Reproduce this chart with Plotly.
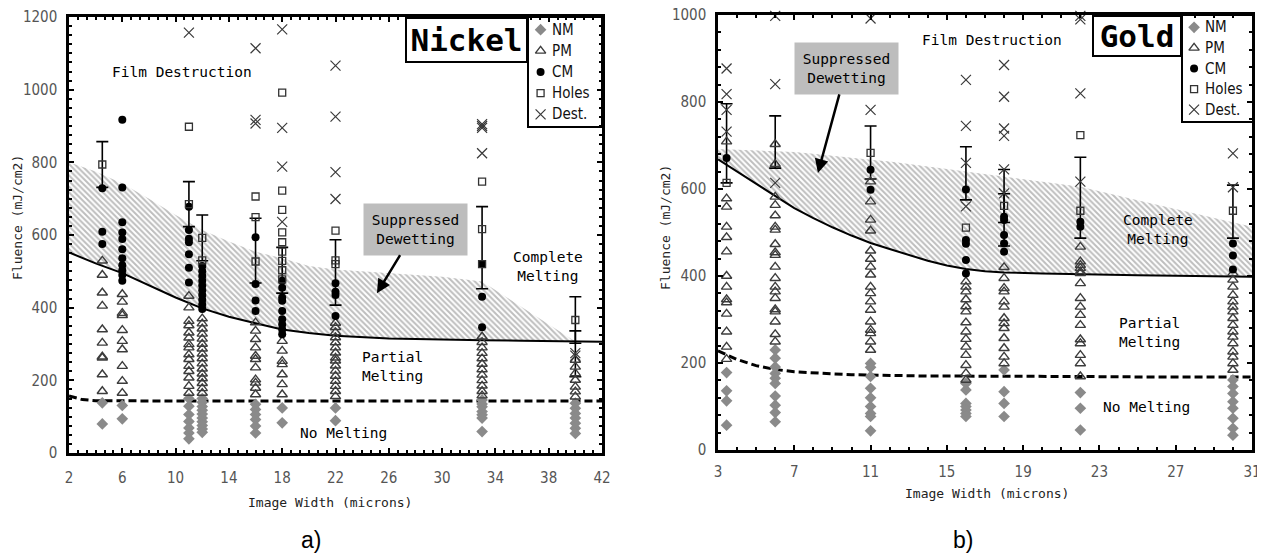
import plotly.graph_objects as go

# ---------------- Nickel (panel a) ----------------
ni_widths = [4.5, 6, 11, 12, 16, 18, 22, 33, 40]
ni_nm = [[138, 80], [131, 94], [150, 129, 106, 87, 69, 55, 39],
         [150, 140, 128, 118, 107, 96, 86, 76, 66, 57],
         [134, 120, 106, 92, 74, 55], [124, 83], [124, 89],
         [146, 135, 127, 114, 105, 96, 59], [137, 123, 109, 96, 82, 68, 54]]
ni_pm = [[170, 216, 262, 265, 303, 340, 405, 441, 490, 529],
         [165, 198, 239, 285, 308, 338, 379, 385, 416, 437],
         [165, 184, 207, 225, 239, 258, 271, 290, 299, 317, 331, 351, 363, 400, 432],
         [165, 178, 192, 205, 218, 232, 246, 260, 273, 287, 300, 314, 328, 342, 356, 370],
         [161, 179, 193, 202, 235, 258, 267, 290, 313, 336, 359],
         [161, 189, 216, 244, 253, 281, 308],
         [156, 170, 184, 198, 212, 226, 240, 254, 262, 276, 290, 304, 318, 332, 346, 358],
         [158, 170, 185, 200, 215, 230, 245, 260, 275, 290, 305, 320],
         [155, 169, 182, 201, 219, 237, 256]]
ni_cm = [[729, 609, 575], [917, 731, 635, 607, 589, 561, 536, 517, 503, 490, 474],
         [678, 614, 590, 580, 547, 510, 469],
         [515, 500, 487, 474, 461, 448, 435, 422, 409, 396],
         [594, 465, 420, 391], [474, 455, 428, 419, 391, 368, 354, 340, 327],
         [467, 444, 435, 377], [520, 430, 346], []]
ni_holes = [[794], [], [898, 685], [592, 530], [706, 649, 527],
            [992, 722, 669, 607, 580, 554, 529, 503, 478], [612, 530, 520],
            [747, 616, 520], [366]]
ni_dest = [[], [], [1157], [], [1114, 917, 907], [1166, 895, 788, 636],
           [1066, 926, 773, 699], [905, 900, 895, 825], [275, 268]]
ni_err_x = [4.5, 11, 12, 16, 18, 22, 33, 40, 40]
ni_err_y = [794, 685, 592, 557, 503, 497, 565, 366, 273]
ni_err_d = [63, 62, 63, 89, 63, 90, 113, 64, 63]
ni_curve_x = [2, 3, 4, 6, 8, 10, 12, 14, 16, 18, 20, 22, 26, 30, 33, 36, 38, 40, 42]
ni_cm_curve = [552, 537, 522, 495, 462, 428, 398, 375, 357, 340, 330, 323, 315, 311, 310, 309, 308, 307, 306]
ni_pm_curve = [157, 147, 144, 143, 143, 143, 143, 143, 143, 143, 143, 143, 143, 143, 143, 143, 143, 143, 143]
ni_sd_curve = [800, 788, 775, 742, 700, 655, 614, 582, 554, 536, 515, 505, 495, 485, 472, 401, 354, 307]

# ---------------- Gold (panel b) ----------------
go_widths = [3.45, 6, 11, 16, 18, 22, 30]
go_nm = [[178, 136, 113, 57], [230, 211, 191, 176, 165, 153, 124, 103, 86, 65],
         [199, 190, 169, 142, 120, 100, 84, 77, 44],
         [153, 138, 107, 100, 92, 84, 77], [184, 134, 107, 77], [132, 96, 46],
         [161, 146, 130, 111, 96, 73, 50, 34]]
go_pm = [[709, 578, 559, 513, 489, 456, 400, 375, 346, 339, 313, 272, 237, 209],
         [703, 657, 582, 563, 539, 513, 506, 473, 454, 448, 421, 395, 375, 364, 349, 323, 318, 295, 266, 249],
         [617, 571, 529, 504, 458, 439, 421, 403, 375, 360, 341, 322, 295, 276, 268, 249, 230],
         [387, 375, 364, 346, 330, 318, 293, 272, 255, 237, 218, 195, 176, 161],
         [420, 395, 372, 364, 341, 329, 303, 291, 280, 257, 234, 214, 199],
         [467, 433, 425, 418, 410, 406, 383, 349, 329, 310, 287, 254, 245, 218, 199, 169],
         [406, 391, 375, 356, 341, 329, 318, 303, 287, 272, 260, 245, 226, 214, 199, 184]]
go_cm = [[671], [], [644, 598], [599, 483, 474, 437, 406], [536, 529, 494, 475, 456],
         [525, 513], [475, 447, 415]]
go_holes = [[614], [], [683], [511], [561], [724, 550], [550]]
go_dest = [[877, 818, 782, 732], [998, 841, 614], [992, 782], [851, 745, 660, 560],
           [885, 812, 739, 722, 645, 590], [998, 990, 820, 617], [682, 604]]
go_err_x = [3.45, 6, 11, 16, 18, 18, 22, 30]
go_err_y = [705, 708, 684, 636, 584, 529, 580, 548]
go_err_d = [91, 60, 61, 61, 61, 60, 93, 61]
go_curve_x = [3, 4, 5, 6, 7, 8, 9, 10, 11, 12, 13, 14, 15, 16, 17, 18, 20, 22, 25, 28, 31]
go_cm_curve = [668, 640, 610, 582, 556, 533, 512, 493, 476, 462, 448, 435, 424, 416, 411, 408, 406, 404, 402, 400, 398]
go_pm_curve = [228, 208, 194, 185, 180, 177, 175, 173, 172, 171, 171, 170, 170, 170, 169, 169, 169, 169, 168, 168, 168]
go_sd_curve = [692, 690, 689, 687, 685, 681, 676, 672, 667, 663, 658, 652, 646, 640, 634, 628, 616, 605, 574, 543, 513]

legend_names = ["NM", "PM", "CM", "Holes", "Dest."]

MONO = "DejaVu Sans Mono"
NARROW = "Liberation Sans Narrow, DejaVu Sans Condensed, Arial Narrow, sans-serif"
W, H = 1265, 556
OX, OY = 8, 8  # page body margin offset


def fx(px):
    return (px - OX) / W


def fy(py):
    return 1 - (py - OY) / H


def expand(widths, groups):
    xs, ys = [], []
    for w, g in zip(widths, groups):
        xs += [w] * len(g)
        ys += list(g)
    return xs, ys


styles = [
    dict(symbol="diamond", size=9, color="#8a8a8a", line=dict(width=0)),
    dict(symbol="triangle-up-open", size=9, color="#3c3c3c", line=dict(width=1.4)),
    dict(symbol="circle", size=8, color="black", line=dict(width=0)),
    dict(symbol="square-open", size=7, color="#333333", line=dict(width=1.3)),
    dict(symbol="x-thin-open", size=10, color="#3a3a3a", line=dict(width=1.2, color="#3a3a3a")),
]

fig = go.Figure()


def add_panel(xa, ya, curve_x, cm_curve, pm_curve, sd_curve, widths,
              cats, err_x, err_y, err_d):
    n = len(sd_curve)
    poly_x = list(curve_x[:n]) + list(curve_x[:n])[::-1]
    poly_y = list(sd_curve) + list(cm_curve[:n])[::-1]
    fig.add_trace(go.Scatter(
        x=poly_x, y=poly_y, xaxis=xa, yaxis=ya, mode="lines", fill="toself",
        line=dict(width=0, color="rgba(0,0,0,0)"), fillcolor="white",
        fillpattern=dict(shape="\\", fgcolor="#7d7d7d", bgcolor="white", size=4, solidity=0.5),
        showlegend=False, hoverinfo="skip"))
    fig.add_trace(go.Scatter(x=curve_x, y=cm_curve, xaxis=xa, yaxis=ya, mode="lines",
                             line=dict(color="black", width=2), showlegend=False))
    fig.add_trace(go.Scatter(x=curve_x, y=pm_curve, xaxis=xa, yaxis=ya, mode="lines",
                             line=dict(color="black", width=3, dash="8px,4px"), showlegend=False))
    fig.add_trace(go.Scatter(
        x=err_x, y=err_y, xaxis=xa, yaxis=ya, mode="markers",
        marker=dict(size=1, color="rgba(0,0,0,0)"),
        error_y=dict(type="data", array=err_d, symmetric=True, color="black", thickness=1.6, width=6),
        showlegend=False))
    for name, groups, st in zip(legend_names, cats, styles):
        xs, ys = expand(widths, groups)
        fig.add_trace(go.Scatter(
            x=xs, y=ys, xaxis=xa, yaxis=ya, mode="markers", name=name,
            marker=st, showlegend=False, cliponaxis=False))


add_panel("x", "y", ni_curve_x, ni_cm_curve, ni_pm_curve, ni_sd_curve, ni_widths,
          [ni_nm, ni_pm, ni_cm, ni_holes, ni_dest], ni_err_x, ni_err_y, ni_err_d)
add_panel("x2", "y2", go_curve_x, go_cm_curve, go_pm_curve, go_sd_curve, go_widths,
          [go_nm, go_pm, go_cm, go_holes, go_dest], go_err_x, go_err_y, go_err_d)

# legend keys drawn on small overlay axes placed over each legend box
legend_rows = list(range(len(legend_names)))[::-1]
for xa, ya in [("x3", "y3"), ("x4", "y4")]:
    for row, st in zip(legend_rows, styles):
        fig.add_trace(go.Scatter(x=[0.17], y=[row], xaxis=xa, yaxis=ya, mode="markers",
                                 marker=st, showlegend=False, cliponaxis=False))


def axis(domain, rng, dtick, tick0, minor, standoff):
    return dict(domain=domain, range=rng, dtick=dtick, tick0=tick0, tickmode="linear",
                ticks="inside", ticklen=5, tickwidth=2, tickcolor="black",
                showline=True, linewidth=2.5, linecolor="black", mirror="allticks",
                showgrid=False, zeroline=False, ticklabelstandoff=standoff, automargin=False,
                ticklabeloverflow="allow",
                tickfont=dict(family=NARROW, size=15, color="#555555"),
                minor=dict(dtick=minor, ticks="inside", ticklen=3, tickwidth=2, tickcolor="black",
                           showgrid=False))


def hidden(domain, rng, anchor):
    return dict(domain=domain, range=rng, visible=False, fixedrange=True, anchor=anchor,
                automargin=False)


fig.update_layout(
    width=W, height=H, margin=dict(l=0, r=0, t=0, b=0, autoexpand=False),
    paper_bgcolor="white", plot_bgcolor="rgba(0,0,0,0)",
    xaxis=dict(axis([fx(69), fx(602)], [2, 42], 4, 2, 4 / 6, 9), anchor="y"),
    yaxis=dict(axis([fy(453), fy(17)], [0, 1200], 200, 0, 25, 6), anchor="x"),
    xaxis2=dict(axis([fx(718), fx(1252)], [3, 31], 4, 3, 1, 6), anchor="y2"),
    yaxis2=dict(axis([fy(450), fy(15)], [0, 1000], 200, 0, 40, 6), anchor="x2"),
    xaxis3=hidden([fx(528), fx(602)], [0, 1], "y3"),
    yaxis3=hidden([fy(127), fy(17)], [-0.6, 4.6], "x3"),
    xaxis4=hidden([fx(1182), fx(1253)], [0, 1], "y4"),
    yaxis4=hidden([fy(122), fy(15)], [-0.6, 4.6], "x4"),
    showlegend=False,
)

shapes = []
for x0, x1, y0, y1 in [(528, 602, 17, 127), (1182, 1253, 15, 122)]:
    shapes.append(dict(type="rect", xref="paper", yref="paper", x0=fx(x0), x1=fx(x1),
                       y0=fy(y1), y1=fy(y0), line=dict(color="black", width=2),
                       fillcolor="white", layer="below"))
fig.update_layout(shapes=shapes)

ann = []
for xa, ya in [("x3", "y3"), ("x4", "y4")]:
    for row, name in zip(legend_rows, legend_names):
        ann.append(dict(x=0.3, y=row, xref=xa, yref=ya, text=name, showarrow=False,
                        xanchor="left", yanchor="middle",
                        font=dict(family=NARROW, size=15, color="#111111")))


def label(x, y, text, xref, yref, size=14.5):
    ann.append(dict(x=x, y=y, xref=xref, yref=yref, text=text, showarrow=False,
                    xanchor="center", yanchor="middle",
                    font=dict(family=MONO, size=size, color="black")))


# Nickel region labels
label(10.48, 1049, "Film Destruction", "x", "y")
label(37.95, 512, "Complete<br>Melting", "x", "y")
label(26.3, 237, "Partial<br>Melting", "x", "y")
label(22.6, 55, "No Melting", "x", "y")
# Gold region labels
label(17.37, 942, "Film Destruction", "x2", "y2")
label(26.07, 506, "Complete<br>Melting", "x2", "y2")
label(25.6, 269, "Partial<br>Melting", "x2", "y2")
label(25.47, 99, "No Melting", "x2", "y2")

# Suppressed dewetting callouts
for xr, yr, hx, hy, axp, ayp in [("x", "y", 25.11, 440, 39, -64), ("x2", "y2", 8.24, 637, 28.5, -104.5)]:
    ann.append(dict(x=hx, y=hy, xref=xr, yref=yr, text="Suppressed<br>Dewetting",
                    showarrow=True, ax=axp, ay=ayp, arrowhead=2, arrowsize=1.1, arrowwidth=2.5,
                    arrowcolor="black", bgcolor="#bdbdbd", width=103, height=51, borderpad=0,
                    font=dict(family=MONO, size=14.5, color="black")))

# Element title boxes
for px, py, t, bw, bh in [(466.5, 40, "Nickel", 119, 42), (1137, 36, "Gold", 86, 38)]:
    ann.append(dict(x=fx(px), y=fy(py), xref="paper", yref="paper", text=t,
                    xanchor="center", yanchor="middle",
                    showarrow=False, bgcolor="white", bordercolor="black", borderwidth=2,
                    borderpad=0, width=bw, height=bh,
                    font=dict(family=MONO, size=31, color="black", weight="bold")))

# Axis titles
for px, py, t, ang in [(17, 218, "Fluence (mJ/cm2)", -90), (665, 228, "Fluence (mJ/cm2)", -90),
                       (330, 502, "Image Width (microns)", 0), (987, 493, "Image Width (microns)", 0)]:
    ann.append(dict(x=fx(px), y=fy(py), xref="paper", yref="paper", text=t, textangle=ang,
                    xanchor="center", yanchor="middle",
                    showarrow=False, font=dict(family=MONO, size=13, color="#222222")))

for px, t in [(311, "a)"), (963, "b)")]:
    ann.append(dict(x=fx(px), y=fy(540), xref="paper", yref="paper", text=t,
                    xanchor="center", yanchor="middle",
                    showarrow=False, font=dict(family="Liberation Sans, Arial, sans-serif", size=23,
                                               color="black")))

fig.update_layout(annotations=ann)
fig.write_html("out.html")
